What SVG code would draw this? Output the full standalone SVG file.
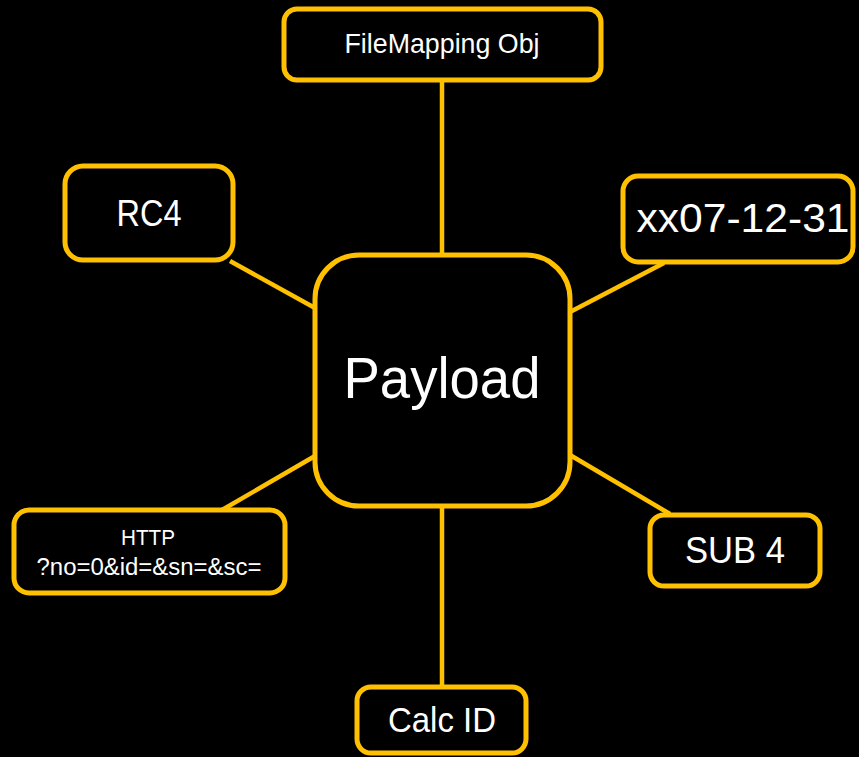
<svg xmlns="http://www.w3.org/2000/svg" width="859" height="757" viewBox="0 0 859 757">
  <style>
    .box { fill: #000000; stroke: #FFC000; stroke-width: 5; }
    .link { stroke: #FFC000; stroke-width: 4.5; fill: none; }
    .lbl { fill: #FFFFFF; font-family: "Liberation Sans", Arial, sans-serif; text-anchor: middle; }
  </style>
  <rect x="0" y="0" width="859" height="757" fill="#000000"/>

  <!-- connectors from the central node to each satellite -->
  <g id="connectors">
    <line class="link" x1="442" y1="82" x2="442" y2="255"/>
    <line class="link" x1="230" y1="261" x2="315" y2="308"/>
    <line class="link" x1="664" y1="263" x2="570" y2="312"/>
    <line class="link" x1="222" y1="510" x2="315" y2="456"/>
    <line class="link" x1="570" y1="455" x2="670" y2="514"/>
    <line class="link" x1="442" y1="506" x2="442" y2="687"/>
  </g>

  <g id="payload">
    <rect class="box" x="315" y="255" width="255" height="251" rx="44"/>
    <text class="lbl" x="442" y="398" font-size="57" textLength="197" lengthAdjust="spacingAndGlyphs">Payload</text>
  </g>

  <g id="filemapping">
    <rect class="box" x="284" y="9" width="317" height="71" rx="13"/>
    <text class="lbl" x="442" y="53" font-size="27.5" textLength="195" lengthAdjust="spacingAndGlyphs">FileMapping Obj</text>
  </g>

  <g id="rc4">
    <rect class="box" x="65" y="166" width="168" height="94" rx="18"/>
    <text class="lbl" x="149" y="226" font-size="37" textLength="65" lengthAdjust="spacingAndGlyphs">RC4</text>
  </g>

  <g id="date">
    <rect class="box" x="623" y="176" width="230" height="86" rx="15"/>
    <text class="lbl" x="743" y="232" font-size="41" textLength="213" lengthAdjust="spacingAndGlyphs">xx07-12-31</text>
  </g>

  <g id="http">
    <rect class="box" x="14" y="510" width="271" height="83" rx="15"/>
    <text class="lbl" x="148" y="545" font-size="21.5" textLength="54" lengthAdjust="spacingAndGlyphs">HTTP</text>
    <text class="lbl" x="149" y="575" font-size="23" textLength="225" lengthAdjust="spacingAndGlyphs">?no=0&amp;id=&amp;sn=&amp;sc=</text>
  </g>

  <g id="sub4">
    <rect class="box" x="650" y="515" width="170" height="71" rx="14"/>
    <text class="lbl" x="735" y="563" font-size="36" textLength="100" lengthAdjust="spacingAndGlyphs">SUB 4</text>
  </g>

  <g id="calcid">
    <rect class="box" x="357" y="687" width="169" height="66" rx="14"/>
    <text class="lbl" x="442" y="732" font-size="35" textLength="108" lengthAdjust="spacingAndGlyphs">Calc ID</text>
  </g>
</svg>
